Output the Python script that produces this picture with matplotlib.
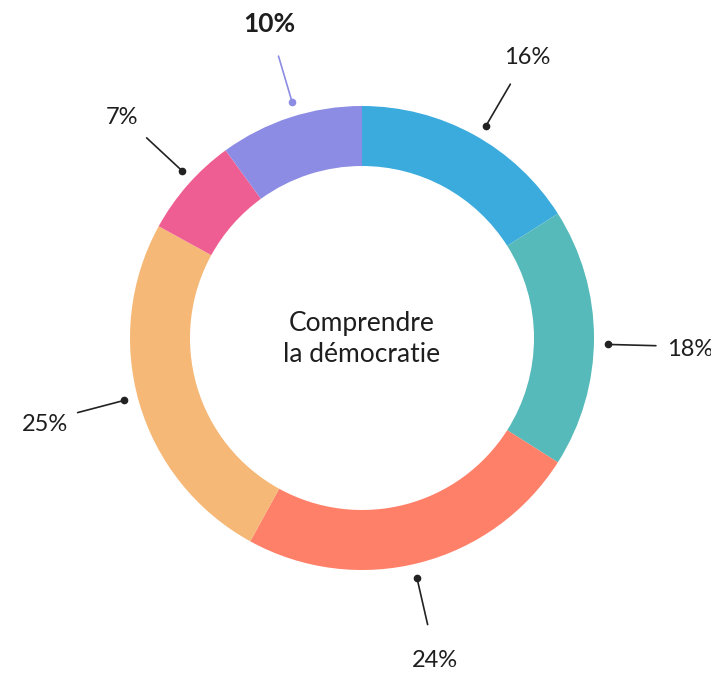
import matplotlib.pyplot as plt
import numpy as np

# Share of each part of the ring, clockwise from the top
labels = ['16%', '18%', '24%', '25%', '7%', '10%']
values = [16, 18, 24, 25, 7, 10]
colors = ['#3aabdc', '#56b9ba', '#ff8068', '#f5b877', '#ef5e93', '#8c8ce5']
line_colors = ['#222222', '#222222', '#222222', '#222222', '#222222', '#8c8ce5']
center_text = 'Comprendre\nla démocratie'

W, H = 711, 673
cx, cy = 362, H - 338
r_out, ring = 232, 60

fig = plt.figure(figsize=(W / 100, H / 100), dpi=100)
ax = fig.add_axes([0, 0, 1, 1])

ax.pie(values, colors=colors, startangle=90, counterclock=False,
       center=(cx, cy), radius=r_out, frame=True,
       wedgeprops=dict(width=ring, edgecolor='none', linewidth=0))

# Leader lines: radial, from a dot just outside the ring to the label
cum = np.cumsum([0] + values[:-1])
for i, v in enumerate(values):
    mid = np.deg2rad((cum[i] + v / 2) / 100 * 360 + 1.5)
    dx, dy = np.sin(mid), np.cos(mid)
    x0, y0 = cx + 246 * dx, cy + 246 * dy
    x1, y1 = cx + 294 * dx, cy + 294 * dy
    xt, yt = cx + 328 * dx, cy + 328 * dy - 3
    ax.plot([x0, x1], [y0, y1], color=line_colors[i], lw=1.2,
            solid_capstyle='round')
    ax.plot(x0, y0, 'o', color=line_colors[i], ms=4.5)
    if labels[i] == '10%':
        ax.text(xt, yt + 3, labels[i], ha='center', va='center', fontsize=19,
                family='Lato', color='#1e1e1e', fontweight='bold')
    else:
        ax.text(xt, yt, labels[i], ha='center', va='center', fontsize=17,
                family='Lato', color='#1e1e1e')

ax.text(cx, cy - 1, center_text, ha='center', va='center', fontsize=19,
        family='Lato', color='#1e1e1e', linespacing=1.3)

ax.set_xlim(0, W)
ax.set_ylim(0, H)
ax.axis('off')

fig.savefig('out.png', dpi=100, facecolor='white')
